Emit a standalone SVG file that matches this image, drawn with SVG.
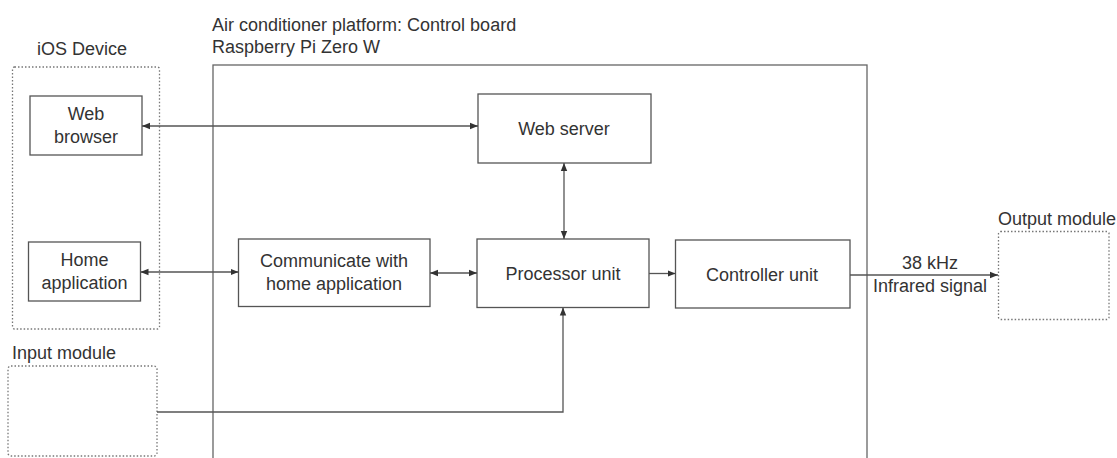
<svg xmlns="http://www.w3.org/2000/svg" width="1117" height="458" viewBox="0 0 1117 458">
<style>
text{font-family:"Liberation Sans",Arial,sans-serif;font-size:18px;fill:#333}
.c{text-anchor:middle}
.box{fill:#fff;stroke:#555;stroke-width:1.3}
.dot{fill:none;stroke:#777;stroke-width:1.3;stroke-dasharray:1.5 2}
.ln{fill:none;stroke:#555;stroke-width:1.3}
</style>
<defs>
<marker id="ah" viewBox="0 0 10 10" refX="10" refY="5" markerWidth="8" markerHeight="8" markerUnits="userSpaceOnUse" orient="auto-start-reverse">
<path d="M0,1 L10,5 L0,9 z" fill="#333"/>
</marker>
</defs>
<rect width="1117" height="458" fill="#fff"/>
<g id="board">
<rect x="213" y="65" width="654" height="420" fill="none" stroke="#666" stroke-width="1.3"/>
<text x="212" y="31">Air conditioner platform: Control board</text>
<text x="212" y="53">Raspberry Pi Zero W</text>
</g>
<g id="ios">
<rect class="dot" x="12.5" y="67" width="147" height="262" rx="2"/>
<text x="37" y="55">iOS Device</text>
</g>
<g id="web-browser">
<rect class="box" x="30" y="96" width="112" height="59"/>
<text class="c" x="86" y="120">Web</text>
<text class="c" x="86" y="143">browser</text>
</g>
<g id="home-app">
<rect class="box" x="28.5" y="242" width="112" height="59"/>
<text class="c" x="84.5" y="266">Home</text>
<text class="c" x="84.5" y="289">application</text>
</g>
<g id="input-module">
<rect class="dot" x="8" y="366" width="149" height="90" rx="3"/>
<text x="12" y="359">Input module</text>
</g>
<g id="web-server">
<rect class="box" x="478" y="94" width="173" height="69"/>
<text class="c" x="564" y="135">Web server</text>
</g>
<g id="communicate">
<rect class="box" x="238.5" y="239" width="191.5" height="67.5"/>
<text class="c" x="334" y="267">Communicate with</text>
<text class="c" x="334" y="290">home application</text>
</g>
<g id="processor">
<rect class="box" x="477" y="239" width="172" height="68.5"/>
<text class="c" x="563" y="280">Processor unit</text>
</g>
<g id="controller">
<rect class="box" x="675.5" y="240" width="174.5" height="68"/>
<text class="c" x="762" y="281">Controller unit</text>
</g>
<g id="output-module">
<rect class="dot" x="998.5" y="231.5" width="110.5" height="88" rx="2"/>
<text x="998" y="225">Output module</text>
</g>
<g id="connectors">
<line class="ln" x1="142" y1="126" x2="478" y2="126" marker-start="url(#ah)" marker-end="url(#ah)"/>
<line class="ln" x1="140.5" y1="272" x2="238.5" y2="272" marker-start="url(#ah)" marker-end="url(#ah)"/>
<line class="ln" x1="430" y1="273" x2="477" y2="273" marker-start="url(#ah)" marker-end="url(#ah)"/>
<line class="ln" x1="564" y1="163" x2="564" y2="239" marker-start="url(#ah)" marker-end="url(#ah)"/>
<line class="ln" x1="649" y1="273.5" x2="675.5" y2="273.5" marker-end="url(#ah)"/>
<line class="ln" x1="850" y1="275" x2="998" y2="275" marker-end="url(#ah)"/>
<polyline class="ln" points="157,412 563,412 563,307.5" marker-end="url(#ah)"/>
<text class="c" x="930" y="269">38 kHz</text>
<text class="c" x="930" y="292">Infrared signal</text>
</g>
</svg>
